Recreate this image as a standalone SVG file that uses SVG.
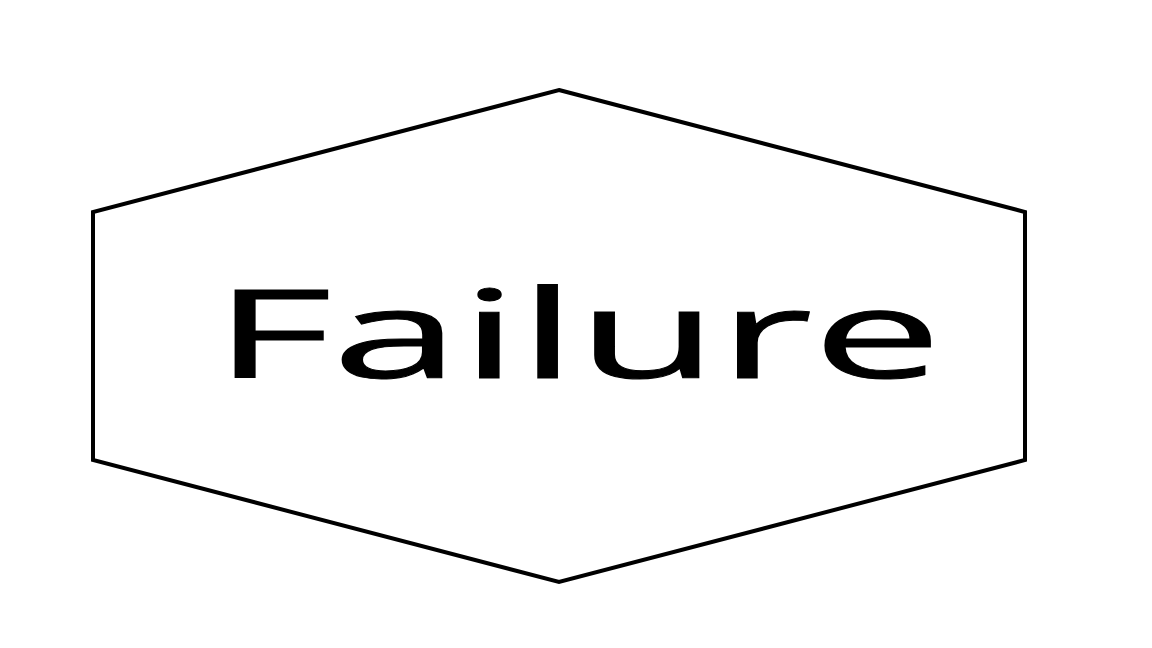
<svg xmlns="http://www.w3.org/2000/svg" width="1152" height="648" viewBox="0 0 1152 648">
<style>
.shape{fill:#fff;stroke:#000;stroke-width:4;stroke-linejoin:miter}
.label{font-family:"Open Sans","Noto Sans","Liberation Sans",sans-serif;font-size:122px;fill:#000;stroke:#000;stroke-width:1}
</style>
<rect width="1152" height="648" fill="#fff"/>
<g id="node-failure">
<polygon class="shape" points="559,90 1025,212 1025,460 559,582 93,460 93,212"/>
<text class="label" x="213" y="378" textLength="729" lengthAdjust="spacingAndGlyphs">Failure</text>
</g>
<g id="connectors"></g>
</svg>
